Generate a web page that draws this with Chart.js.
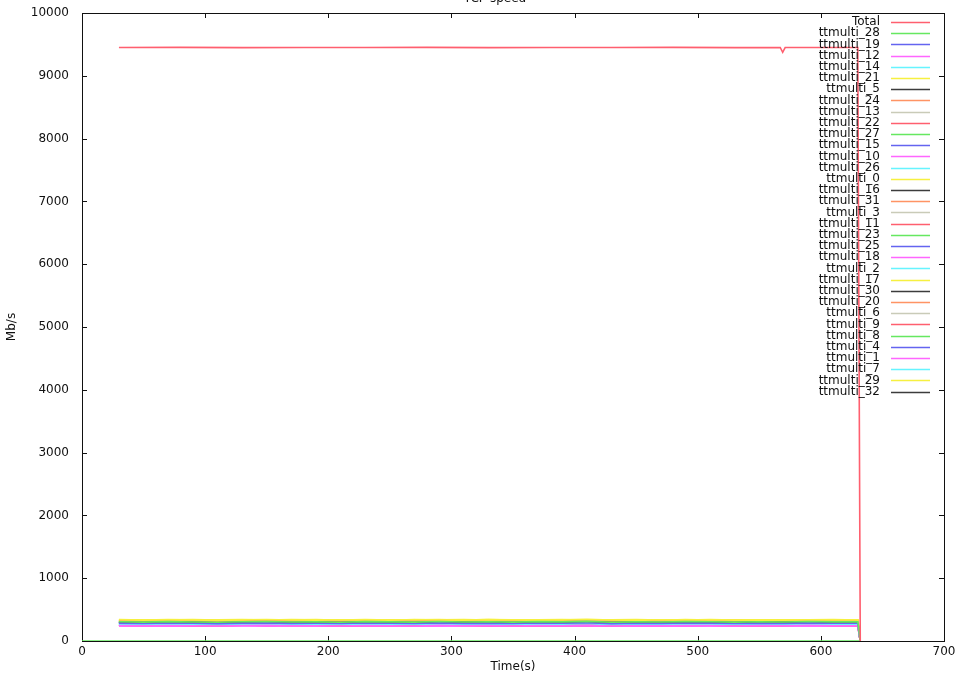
<!DOCTYPE html>
<html>
<head>
<meta charset="utf-8">
<script src="https://cdn.jsdelivr.net/npm/chart.js@4/dist/chart.umd.min.js"></script>
<style>
  html, body { margin: 0; padding: 0; background: #fff; }
  #c { display: block; }
</style>
</head>
<body>
<canvas id="c" width="962" height="676"></canvas>
<script>
// Sample times (seconds) shared by the per-connection series
const times = [30,50,70,90,110,130,150,170,190,210,230,250,270,290,310,330,350,370,390,410,430,450,470,490,510,530,550,570,590,610,630,632];

// Aggregate throughput, sampled at its own times
const totalTimes = [30,80,130,180,230,280,330,380,430,480,530,567,569,571,600,630,632];
const total = [9450,9452,9449,9451,9450,9452,9449,9451,9450,9452,9449,9451,9375,9450,9451,9450,0];

// Connection that carried nothing for the whole run
const zeroTimes = [0, 631];
const s8 = [0, 0];

// Per-connection throughput in Mb/s
const s21 = [338,332,341,335,329,337,343,334,331,339,336,330,342,335,333,340,337,331,336,344,334,329,338,335,341,333,337,330,339,336,334,0];
const s0  = [331,339,334,327,336,340,333,338,329,335,341,334,330,337,343,332,336,339,331,335,338,333,328,340,334,337,332,339,335,331,336,0];
const s17 = [336,330,338,342,333,329,337,335,340,331,334,338,336,329,335,341,333,337,330,338,336,342,334,331,337,335,339,332,336,340,333,0];
const s29 = [340,334,329,337,338,333,335,341,336,330,338,333,337,340,331,336,334,338,342,330,335,337,333,339,336,331,338,335,333,337,339,0];
const s24 = [322,316,325,319,314,321,327,318,320,315,323,319,317,324,320,316,322,318,326,319,315,321,323,317,320,325,318,322,316,321,319,0];
const s31 = [318,324,317,321,326,315,320,323,317,322,319,325,316,320,318,323,321,315,319,324,322,317,320,326,318,315,322,319,324,320,317,0];
const s20 = [320,317,323,315,319,324,318,321,325,316,320,318,322,319,315,321,326,320,317,323,318,320,324,315,321,319,317,323,320,318,322,0];
const s13 = [315,311,319,314,308,316,321,312,317,313,310,318,315,320,312,316,314,309,317,321,313,315,311,318,316,312,319,314,317,310,315,0];
const s3  = [312,318,314,309,316,320,313,317,311,315,319,314,312,317,321,310,315,318,313,316,311,319,315,312,318,314,310,316,320,313,317,0];
const s6  = [317,313,310,318,315,312,319,314,316,320,311,316,318,313,315,319,312,317,314,310,318,316,313,320,312,315,317,311,314,319,316,0];
const s28 = [306,300,309,303,298,307,311,302,305,299,308,304,301,310,303,306,300,308,304,312,299,305,302,309,306,301,307,303,310,304,305,0];
const s27 = [302,308,304,299,306,310,301,307,303,298,305,309,302,306,311,300,304,308,303,307,299,306,310,302,305,300,308,304,306,309,303,0];
const s23 = [305,301,307,310,302,306,299,304,309,303,306,300,308,305,302,307,311,301,306,304,308,300,305,303,309,306,302,307,304,301,306,0];
const s5  = [298,293,302,296,290,299,304,295,297,292,301,297,294,303,296,299,293,300,297,305,292,298,295,302,299,294,300,296,303,297,298,0];
const s16 = [295,301,297,292,299,303,294,300,296,291,298,302,295,299,304,293,297,301,296,300,292,299,303,295,298,293,301,297,299,302,296,0];
const s30 = [300,296,292,299,297,303,294,298,301,295,297,300,293,299,302,296,298,294,301,297,303,295,299,292,300,297,295,301,298,294,299,0];
const s32 = [297,302,295,300,293,298,301,296,303,294,299,297,301,295,298,302,294,300,297,293,299,301,296,298,302,295,297,300,294,301,297,0];
const s19 = [284,279,287,282,276,285,289,280,283,278,286,282,279,288,281,284,278,286,282,290,277,283,280,287,284,279,285,281,288,282,283,0];
const s15 = [281,286,283,277,284,288,280,285,282,276,283,287,280,284,289,278,282,286,281,285,277,284,288,280,283,278,286,282,284,287,281,0];
const s25 = [285,281,278,284,282,288,279,283,286,280,282,285,278,284,287,281,283,279,286,282,288,280,284,277,285,282,280,286,283,279,284,0];
const s4  = [282,287,280,285,278,283,286,281,288,279,284,282,286,280,283,287,279,285,282,278,284,286,281,283,287,280,282,285,279,286,282,0];
const s14 = [268,263,271,266,260,269,273,264,267,262,270,266,263,272,265,268,262,270,266,274,261,267,264,271,268,263,269,265,272,266,267,0];
const s26 = [265,270,267,261,268,272,264,269,266,260,267,271,264,268,273,262,266,270,265,269,261,268,272,264,267,262,270,266,268,271,265,0];
const s2  = [270,266,262,268,267,273,263,267,271,265,266,270,262,268,272,266,267,263,270,266,273,264,268,261,270,267,264,271,267,263,268,0];
const s7  = [266,271,264,269,262,267,270,265,272,263,268,266,270,264,267,271,263,269,266,262,268,270,265,267,271,264,266,269,263,270,266,0];
const s22 = [251,246,254,249,243,252,256,247,250,245,253,249,246,255,248,251,245,253,249,257,244,250,247,254,251,246,252,248,255,249,250,0];
const s11 = [248,253,250,244,251,255,247,252,249,243,250,254,247,251,256,245,249,253,248,252,244,251,255,247,250,245,253,249,251,254,248,0];
const s9  = [253,249,245,251,250,256,246,250,254,248,249,253,245,251,255,249,250,246,253,249,256,247,251,244,253,250,247,254,250,246,251,0];
const s12 = [245,241,248,243,238,246,250,242,244,239,247,243,240,249,242,245,239,247,243,251,238,244,241,248,245,240,246,242,249,243,244,0];
const s10 = [243,247,244,239,246,249,241,246,243,238,245,248,241,245,250,240,244,247,242,246,239,245,249,241,244,240,247,243,245,248,242,0];
const s18 = [246,242,239,245,244,249,240,244,247,241,243,246,239,245,248,242,244,240,247,243,249,241,245,238,246,243,241,247,244,240,245,0];
const s1  = [244,248,241,246,239,244,247,242,249,240,245,243,247,241,244,248,240,246,243,239,245,247,242,244,248,241,243,246,240,247,243,0];

// Legend order, as listed in the key
const seriesNames = ['Total','ttmulti_28','ttmulti_19','ttmulti_12','ttmulti_14','ttmulti_21','ttmulti_5','ttmulti_24','ttmulti_13',
  'ttmulti_22','ttmulti_27','ttmulti_15','ttmulti_10','ttmulti_26','ttmulti_0','ttmulti_16','ttmulti_31','ttmulti_3',
  'ttmulti_11','ttmulti_23','ttmulti_25','ttmulti_18','ttmulti_2','ttmulti_17','ttmulti_30','ttmulti_20','ttmulti_6',
  'ttmulti_9','ttmulti_8','ttmulti_4','ttmulti_1','ttmulti_7','ttmulti_29','ttmulti_32'];
const seriesValues = [total,s28,s19,s12,s14,s21,s5,s24,s13,s22,s27,s15,s10,s26,s0,s16,s31,s3,s11,s23,s25,s18,s2,s17,s30,s20,s6,s9,s8,s4,s1,s7,s29,s32];
const seriesTimes = seriesValues.map(v => v === total ? totalTimes : (v === s8 ? zeroTimes : times));

// Line colour cycle
const palette = ['#ff5f6f','#66e860','#6464f0','#ff66ff','#66f4ff','#f6f040','#3c3c3c','#ff9464','#c9cbb8'];

const FONT = 'DejaVu Sans';
const INK = '#111';

const datasets = seriesNames.map((name, i) => ({
  label: name,
  data: seriesValues[i].map((y, k) => ({ x: seriesTimes[i][k], y })),
  borderColor: palette[i % palette.length],
  backgroundColor: palette[i % palette.length],
  borderWidth: 1.6,
  pointRadius: 0,
  tension: 0,
  fill: false
}));

// Box border with inward ticks on all four sides
const framePlugin = {
  id: 'frame',
  beforeDatasetsDraw(chart) {
    const { ctx, chartArea: a, scales: { x, y } } = chart;
    ctx.save();
    ctx.strokeStyle = INK;
    ctx.lineWidth = 1;
    ctx.strokeRect(Math.round(a.left) + 0.5, Math.round(a.top) + 0.5,
                   Math.round(a.right - a.left), Math.round(a.bottom - a.top));
    const len = 5;
    ctx.beginPath();
    x.ticks.forEach(t => {
      const px = Math.round(x.getPixelForValue(t.value)) + 0.5;
      ctx.moveTo(px, a.bottom); ctx.lineTo(px, a.bottom - len);
      ctx.moveTo(px, a.top); ctx.lineTo(px, a.top + len);
    });
    y.ticks.forEach(t => {
      const py = Math.round(y.getPixelForValue(t.value)) + 0.5;
      ctx.moveTo(a.left, py); ctx.lineTo(a.left + len, py);
      ctx.moveTo(a.right, py); ctx.lineTo(a.right - len, py);
    });
    ctx.stroke();
    ctx.restore();
  }
};

// Key inside the plot: right-aligned names with a line sample after each
const keyPlugin = {
  id: 'key',
  afterDatasetsDraw(chart) {
    const { ctx } = chart;
    ctx.save();
    ctx.font = '12px "' + FONT + '"';
    ctx.textAlign = 'right';
    ctx.textBaseline = 'middle';
    chart.data.datasets.forEach((ds, i) => {
      const yy = 22 + i * 11.2;
      ctx.fillStyle = INK;
      ctx.fillText(ds.label, 880, yy);
      ctx.strokeStyle = ds.borderColor;
      ctx.lineWidth = 1.5;
      ctx.beginPath();
      ctx.moveTo(891, Math.round(yy) + 0.5);
      ctx.lineTo(930, Math.round(yy) + 0.5);
      ctx.stroke();
    });
    ctx.restore();
  }
};

// Heading, sitting at the very top edge of the page
const headingPlugin = {
  id: 'heading',
  afterDraw(chart) {
    const { ctx } = chart;
    ctx.save();
    ctx.font = '12px "' + FONT + '"';
    ctx.fillStyle = INK;
    ctx.textAlign = 'center';
    ctx.textBaseline = 'alphabetic';
    ctx.fillText('TCP speed', 495, 2);
    ctx.restore();
  }
};

// Keep tick labels from pushing the plot box inward
function noOverhang(s) {
  s.paddingTop = 0; s.paddingBottom = 0; s.paddingLeft = 0; s.paddingRight = 0;
}

new Chart(document.getElementById('c'), {
  type: 'line',
  data: { datasets },
  plugins: [framePlugin, keyPlugin, headingPlugin],
  options: {
    responsive: false,
    animation: false,
    layout: { padding: { top: 13, right: 18, left: 0, bottom: 0 } },
    plugins: { legend: { display: false }, tooltip: { enabled: false }, title: { display: false } },
    scales: {
      x: {
        type: 'linear',
        min: 0, max: 700,
        border: { display: false },
        grid: { display: false, drawTicks: false },
        ticks: { stepSize: 100, color: INK, padding: 4, maxRotation: 0, font: { family: FONT, size: 12 },
                 callback: v => String(v) },
        title: { display: true, text: 'Time(s)', color: INK, padding: { top: 0, bottom: 2 }, font: { family: FONT, size: 12 } },
        afterFit(s) { s.height = 35; noOverhang(s); }
      },
      y: {
        type: 'linear',
        min: 0, max: 10000,
        border: { display: false },
        grid: { display: false, drawTicks: false },
        ticks: { stepSize: 1000, color: INK, padding: 13, font: { family: FONT, size: 12 },
                 callback: v => String(v) },
        title: { display: true, text: 'Mb/s', color: INK, padding: { top: 5, bottom: 0 }, font: { family: FONT, size: 12 } },
        afterFit(s) { s.width = 82; noOverhang(s); }
      }
    }
  }
});
</script>
</body>
</html>
